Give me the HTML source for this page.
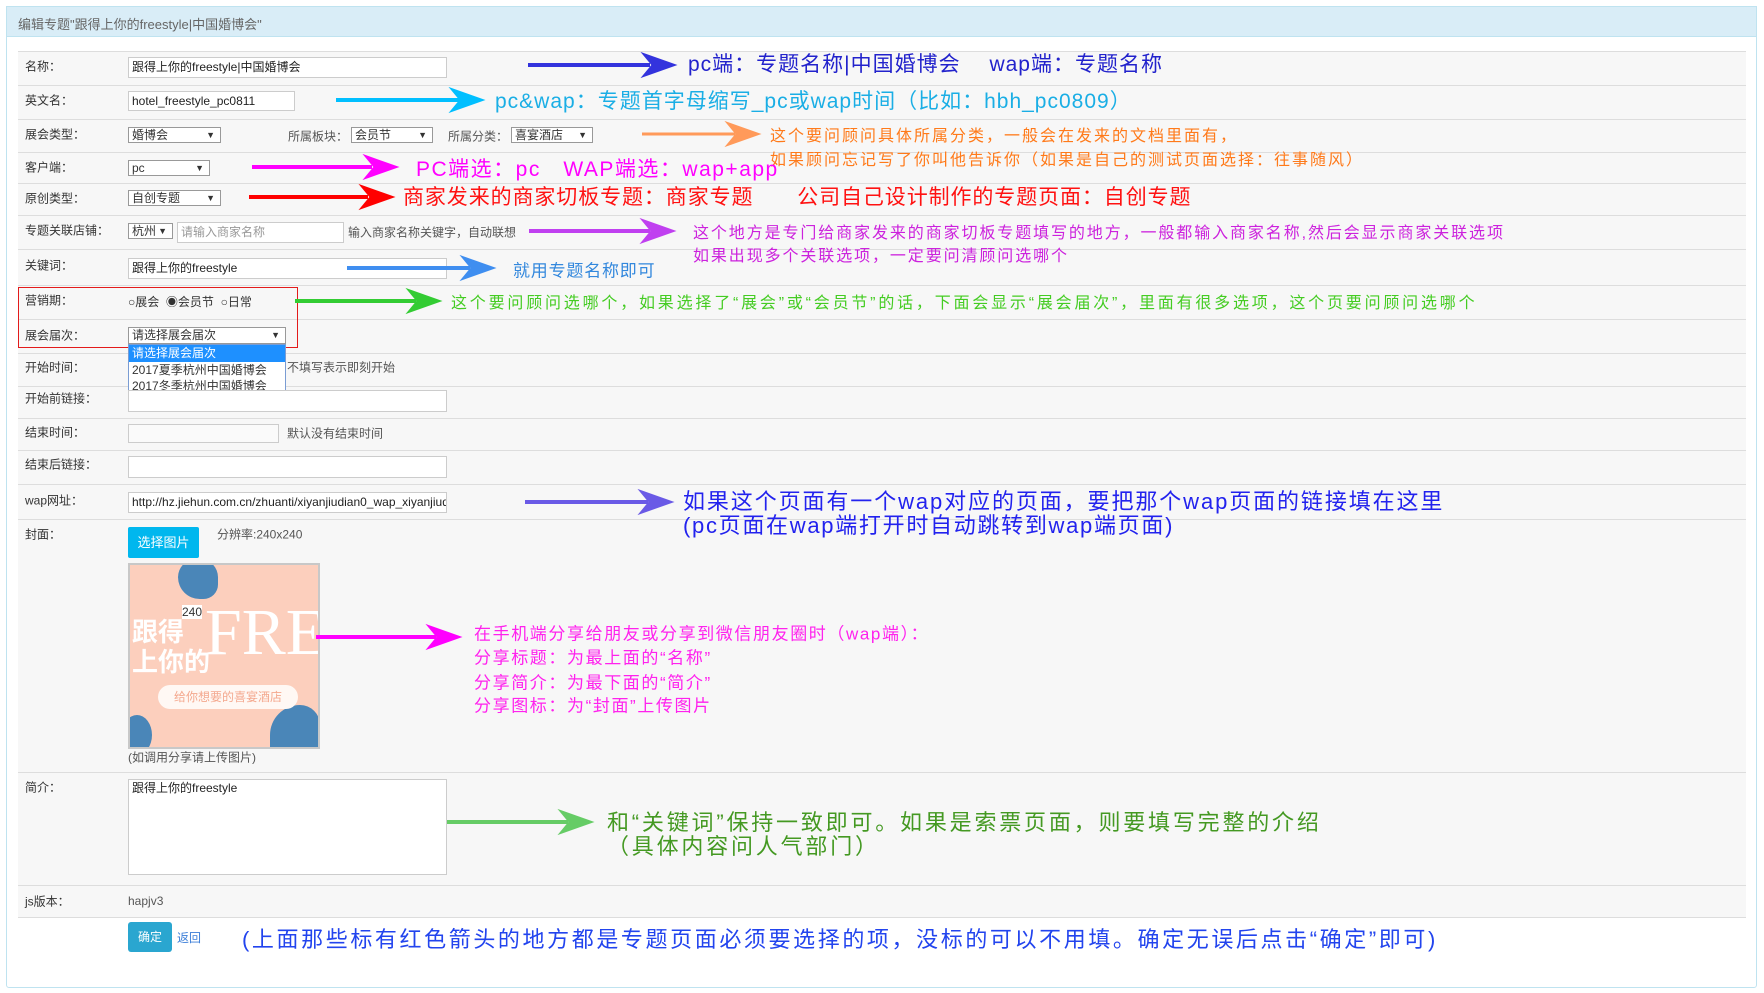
<!DOCTYPE html>
<html><head><meta charset="utf-8">
<style>
*{margin:0;padding:0;box-sizing:border-box}
body{width:1764px;height:993px;background:#fff;position:relative;overflow:hidden;font-family:"Liberation Sans","Noto Sans CJK SC",sans-serif;font-size:12px;color:#333}
.a{position:absolute;white-space:nowrap}
.panel{position:absolute;left:6px;top:6px;width:1751px;height:982px;border:1px solid #bfe3f0;border-radius:3px}
.hdr{position:absolute;left:6px;top:6px;width:1751px;height:31px;background:#d9edf7;border:1px solid #bfe3f0}
.row{position:absolute;left:18px;width:1728px;background:#f7f7f7;border-top:1px solid #ddd}
.lbl{position:absolute;left:25px;font-size:12px;color:#333;transform:translateY(-50%);white-space:nowrap}
.in{position:absolute;background:#fff;border:1px solid #ccc;font-size:12px;padding-left:3px;line-height:18px;white-space:nowrap;overflow:hidden;color:#222}
.sel{position:absolute;background:#fff;border:1px solid #999;font-size:12px;padding-left:3px;line-height:15px;white-space:nowrap;overflow:hidden}
.sel:after{content:"▼";position:absolute;right:5px;top:0;font-size:9px}
.ann{position:absolute;white-space:nowrap;transform:translateY(-50%)}
.hint{position:absolute;font-size:12px;color:#555;transform:translateY(-50%);white-space:nowrap}
</style></head><body>
<div class="panel"></div>
<div class="hdr"></div>
<div class="a" style="left:18px;top:14px;font-size:13px;color:#666">编辑专题"跟得上你的freestyle|中国婚博会"</div>

<div class="row" style="top:51px;height:34px"></div>
<div class="row" style="top:85px;height:34px"></div>
<div class="row" style="top:119px;height:33px"></div>
<div class="row" style="top:152px;height:31px"></div>
<div class="row" style="top:183px;height:32px"></div>
<div class="row" style="top:215px;height:34px"></div>
<div class="row" style="top:249px;height:36px"></div>
<div class="row" style="top:285px;height:34px"></div>
<div class="row" style="top:319px;height:34px"></div>
<div class="row" style="top:353px;height:33px"></div>
<div class="row" style="top:386px;height:32px"></div>
<div class="row" style="top:418px;height:32px"></div>
<div class="row" style="top:450px;height:34px"></div>
<div class="row" style="top:484px;height:35px"></div>
<div class="row" style="top:519px;height:253px"></div>
<div class="row" style="top:772px;height:113px"></div>
<div class="row" style="top:885px;height:32px"></div>
<div class="row" style="top:917px;height:60px;background:#fff"></div>

<div class="lbl" style="top:66px">名称：</div>
<div class="lbl" style="top:100px">英文名：</div>
<div class="lbl" style="top:134px">展会类型：</div>
<div class="lbl" style="top:167px">客户端：</div>
<div class="lbl" style="top:198px">原创类型：</div>
<div class="lbl" style="top:230px">专题关联店铺：</div>
<div class="lbl" style="top:265px">关键词：</div>
<div class="lbl" style="top:300px">营销期：</div>
<div class="lbl" style="top:335px">展会届次：</div>
<div class="lbl" style="top:367px">开始时间：</div>
<div class="lbl" style="top:398px">开始前链接：</div>
<div class="lbl" style="top:432px">结束时间：</div>
<div class="lbl" style="top:464px">结束后链接：</div>
<div class="lbl" style="top:500px">wap网址：</div>
<div class="lbl" style="top:534px">封面：</div>
<div class="lbl" style="top:787px">简介：</div>
<div class="lbl" style="top:901px">js版本：</div>

<div class="in" style="left:128px;top:57px;width:319px;height:21px">跟得上你的freestyle|中国婚博会</div>
<div class="in" style="left:128px;top:91px;width:167px;height:20px">hotel_freestyle_pc0811</div>
<div class="sel" style="left:128px;top:127px;width:93px;height:16px">婚博会</div>
<div class="hint" style="left:288px;top:136px">所属板块：</div>
<div class="sel" style="left:351px;top:127px;width:82px;height:16px">会员节</div>
<div class="hint" style="left:448px;top:136px">所属分类：</div>
<div class="sel" style="left:511px;top:127px;width:82px;height:16px">喜宴酒店</div>
<div class="sel" style="left:128px;top:160px;width:82px;height:16px">pc</div>
<div class="sel" style="left:128px;top:190px;width:93px;height:16px">自创专题</div>
<div class="sel" style="left:128px;top:223px;width:45px;height:16px">杭州</div>
<div class="in" style="left:177px;top:222px;width:167px;height:21px;color:#999">请输入商家名称</div>
<div class="hint" style="left:348px;top:232px">输入商家名称关键字，自动联想</div>
<div class="in" style="left:128px;top:258px;width:319px;height:21px">跟得上你的freestyle</div>
<div class="a" style="left:128px;top:293px;font-size:12px">○展会 &nbsp;◉会员节 &nbsp;○日常</div>
<div style="position:absolute;left:18px;top:287px;width:280px;height:61px;border:1px solid #e31b1b"></div>
<div class="sel" style="left:128px;top:327px;width:158px;height:17px">请选择展会届次</div>
<div style="position:absolute;left:128px;top:344px;width:158px;height:52px;background:#fff;border:1px solid #7a9cd3;font-size:12px;line-height:16px">
<div style="background:#1e90ff;color:#fff;padding-left:3px;height:17px">请选择展会届次</div>
<div style="padding-left:3px">2017夏季杭州中国婚博会</div>
<div style="padding-left:3px">2017冬季杭州中国婚博会</div></div>
<div class="hint" style="left:287px;top:367px">不填写表示即刻开始</div>
<div class="in" style="left:128px;top:390px;width:319px;height:22px"></div>
<div class="in" style="left:128px;top:424px;width:151px;height:19px;background:#fafafa"></div>
<div class="hint" style="left:287px;top:433px">默认没有结束时间</div>
<div class="in" style="left:128px;top:456px;width:319px;height:22px"></div>
<div class="in" style="left:128px;top:492px;width:319px;height:21px">http://hz.jiehun.com.cn/zhuanti/xiyanjiudian0_wap_xiyanjiudian</div>
<div class="a" style="left:128px;top:527px;width:71px;height:31px;background:#00b7ee;border-radius:2px;color:#fff;font-size:13px;line-height:31px;text-align:center">选择图片</div>
<div class="hint" style="left:217px;top:534px">分辨率:240x240</div>
<div style="position:absolute;left:128px;top:563px;width:192px;height:186px;border:2px solid #c8c8c8;background:#fccfbd;overflow:hidden">
<div style="position:absolute;left:48px;top:-6px;width:40px;height:40px;background:#4a86b8;border-radius:50% 50% 40% 60%"></div>
<div style="position:absolute;left:-8px;top:150px;width:30px;height:40px;background:#4a86b8;border-radius:50%"></div>
<div style="position:absolute;left:140px;top:140px;width:50px;height:50px;background:#4a86b8;border-radius:60% 40% 0 0"></div>
<div style="position:absolute;left:52px;top:40px;font-size:12px;background:#fff;color:#333">240</div>
<div style="position:absolute;left:2px;top:52px;font-size:26px;color:#fff;line-height:30px;font-weight:bold">跟得<br>上你的</div>
<div style="position:absolute;left:75px;top:30px;font-size:66px;color:#fff;font-family:'Liberation Serif',serif">FREE</div>
<div style="position:absolute;left:28px;top:120px;width:140px;height:24px;border-radius:12px;background:#fff8f4;color:#f4a88e;font-size:12px;line-height:24px;text-align:center">给你想要的喜宴酒店</div>
</div>
<div class="hint" style="left:128px;top:757px">(如调用分享请上传图片)</div>
<div class="in" style="left:128px;top:779px;width:319px;height:96px;line-height:16px;vertical-align:top">跟得上你的freestyle</div>
<div class="hint" style="left:128px;top:901px">hapjv3</div>
<div class="a" style="left:128px;top:922px;width:44px;height:30px;background:#2aa6d0;border-radius:3px;color:#fff;font-size:12px;line-height:30px;text-align:center">确定</div>
<div class="a" style="left:177px;top:929px;color:#3b7ed8;font-size:12px">返回</div>

<svg width="1764" height="993" style="position:absolute;left:0;top:0">
<defs>
<g id="ah"><path d="M0,-12 L34,0 L0,12 L10,0 Z"/></g>
</defs>
<g fill="#3333dd" stroke="#3333dd"><line x1="528" y1="65" x2="650" y2="65" stroke-width="4"/><use href="#ah" x="642" y="65"/></g>
<g fill="#00bfff" stroke="#00bfff"><line x1="336" y1="100" x2="460" y2="100" stroke-width="4"/><use href="#ah" x="450" y="100"/></g>
<g fill="#ff9a5a" stroke="#ff9a5a"><line x1="642" y1="134" x2="735" y2="134" stroke-width="3"/><use href="#ah" x="726" y="134"/></g>
<g fill="#ff00ff" stroke="#ff00ff"><line x1="252" y1="167" x2="372" y2="167" stroke-width="4"/><use href="#ah" x="364" y="167"/></g>
<g fill="#ff0000" stroke="#ff0000"><line x1="249" y1="197" x2="368" y2="197" stroke-width="4"/><use href="#ah" x="360" y="197"/></g>
<g fill="#c040f0" stroke="#c040f0"><line x1="529" y1="231" x2="650" y2="231" stroke-width="4"/><use href="#ah" x="641" y="231"/></g>
<g fill="#3f8ef0" stroke="#3f8ef0"><line x1="347" y1="268" x2="470" y2="268" stroke-width="4"/><use href="#ah" x="461" y="268"/></g>
<g fill="#33cc33" stroke="#33cc33"><line x1="295" y1="301" x2="416" y2="301" stroke-width="4"/><use href="#ah" x="407" y="301"/></g>
<g fill="#6a5ae6" stroke="#6a5ae6"><line x1="525" y1="502" x2="648" y2="502" stroke-width="4"/><use href="#ah" x="639" y="502"/></g>
<g fill="#ff00ff" stroke="#ff00ff"><line x1="316" y1="637" x2="436" y2="637" stroke-width="4"/><use href="#ah" x="427" y="637"/></g>
<g fill="#66cc66" stroke="#66cc66"><line x1="447" y1="822" x2="568" y2="822" stroke-width="4"/><use href="#ah" x="559" y="822"/></g>
</svg>

<div class="ann" style="left:688px;top:63px;font-size:21px;color:#2222cc;letter-spacing:1px">pc端：专题名称|中国婚博会　 wap端：专题名称</div>
<div class="ann" style="left:495px;top:100px;font-size:21px;color:#1aaee5;letter-spacing:1px">pc&amp;wap：专题首字母缩写_pc或wap时间（比如：hbh_pc0809）</div>
<div class="ann" style="left:770px;top:134px;font-size:16px;color:#ff7a1a;letter-spacing:2px">这个要问顾问具体所属分类，一般会在发来的文档里面有，</div>
<div class="ann" style="left:770px;top:158px;font-size:16px;color:#ff7a1a;letter-spacing:2px">如果顾问忘记写了你叫他告诉你（如果是自己的测试页面选择：往事随风）</div>
<div class="ann" style="left:416px;top:168px;font-size:21px;color:#ff00ff;letter-spacing:1.5px">PC端选：pc　WAP端选：wap+app</div>
<div class="ann" style="left:403px;top:196px;font-size:21px;color:#ff1111;letter-spacing:0.9px">商家发来的商家切板专题：商家专题　　公司自己设计制作的专题页面：自创专题</div>
<div class="ann" style="left:693px;top:231px;font-size:16px;color:#cc22dd;letter-spacing:1.9px">这个地方是专门给商家发来的商家切板专题填写的地方，一般都输入商家名称,然后会显示商家关联选项</div>
<div class="ann" style="left:693px;top:254px;font-size:16px;color:#cc22dd;letter-spacing:1.9px">如果出现多个关联选项，一定要问清顾问选哪个</div>
<div class="ann" style="left:513px;top:269px;font-size:17px;color:#3388dd;letter-spacing:0.8px">就用专题名称即可</div>
<div class="ann" style="left:451px;top:301px;font-size:16px;color:#44cc22;letter-spacing:2.8px">这个要问顾问选哪个，如果选择了“展会”或“会员节”的话，下面会显示“展会届次”，里面有很多选项，这个页要问顾问选哪个</div>
<div class="ann" style="left:683px;top:500px;font-size:22px;color:#2222ee;letter-spacing:1.9px">如果这个页面有一个wap对应的页面，要把那个wap页面的链接填在这里</div>
<div class="ann" style="left:683px;top:524px;font-size:22px;color:#2222ee;letter-spacing:1.7px">(pc页面在wap端打开时自动跳转到wap端页面)</div>
<div class="ann" style="left:474px;top:632px;font-size:17px;color:#ff22ee;letter-spacing:1.6px">在手机端分享给朋友或分享到微信朋友圈时（wap端）：</div>
<div class="ann" style="left:474px;top:656px;font-size:17px;color:#ff22ee;letter-spacing:1.6px">分享标题：为最上面的“名称”</div>
<div class="ann" style="left:474px;top:681px;font-size:17px;color:#ff22ee;letter-spacing:1.6px">分享简介：为最下面的“简介”</div>
<div class="ann" style="left:474px;top:704px;font-size:17px;color:#ff22ee;letter-spacing:1.6px">分享图标：为“封面”上传图片</div>
<div class="ann" style="left:607px;top:821px;font-size:22px;color:#449922;letter-spacing:2.8px">和“关键词”保持一致即可。如果是索票页面，则要填写完整的介绍</div>
<div class="ann" style="left:607px;top:845px;font-size:22px;color:#449922;letter-spacing:2.8px">（具体内容问人气部门）</div>
<div class="ann" style="left:242px;top:938px;font-size:22px;color:#2244ee;letter-spacing:2.6px">(上面那些标有红色箭头的地方都是专题页面必须要选择的项，没标的可以不用填。确定无误后点击“确定”即可)</div>
</body></html>
